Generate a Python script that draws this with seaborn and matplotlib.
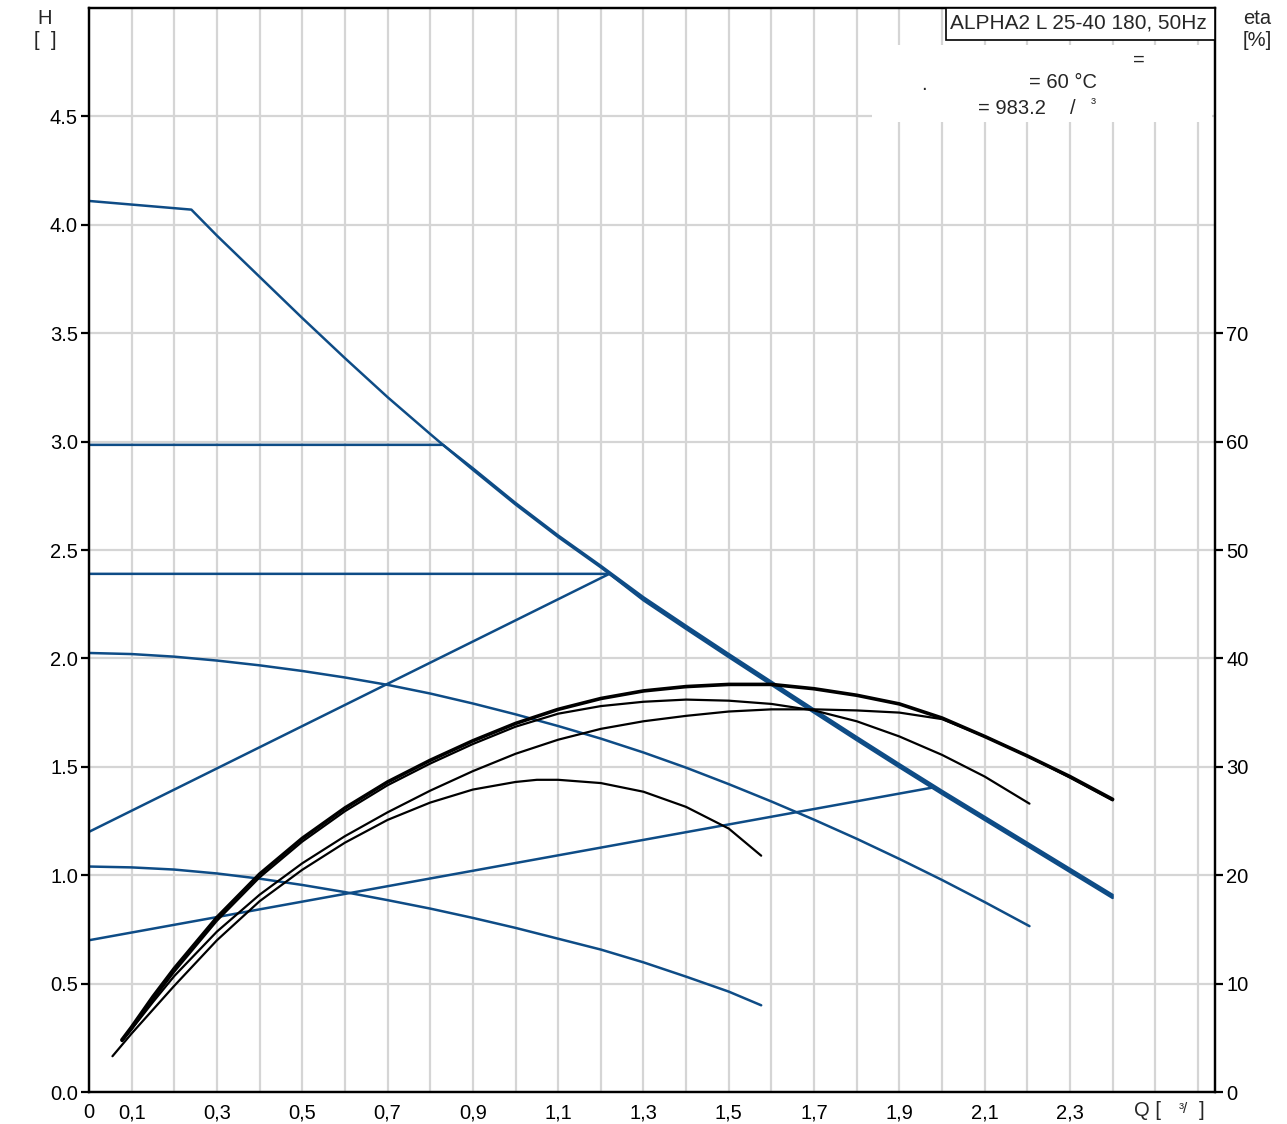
import numpy as np
import pandas as pd
import matplotlib
matplotlib.use("Agg")
import matplotlib.pyplot as plt
import seaborn as sns
from matplotlib.patches import Rectangle

# ---------------- data ----------------
# Head curves H [m] vs flow Q [m3/h]
q_max = [0, 0.24, 0.3, 0.4, 0.5, 0.6, 0.7, 0.8, 0.83, 0.9, 1.0, 1.1, 1.2, 1.22, 1.3, 1.4,
         1.5, 1.6, 1.7, 1.8, 1.9, 1.98, 2.1, 2.2, 2.3, 2.4]
h_max = [4.11, 4.07, 3.95, 3.76, 3.57, 3.385, 3.205, 3.035, 2.985, 2.87, 2.71, 2.56, 2.42, 2.39,
         2.275, 2.143, 2.013, 1.885, 1.757, 1.63, 1.505, 1.405, 1.262, 1.142, 1.022, 0.902]

q_cp1 = [0, 0.83, 0.9, 1.0, 1.1, 1.2, 1.3, 1.4, 1.5, 1.6, 1.7, 1.8, 1.9, 2.0, 2.1, 2.2, 2.3, 2.4]
h_cp1 = [2.985, 2.985, 2.877, 2.717, 2.567, 2.427, 2.282, 2.150, 2.020, 1.892, 1.764, 1.637,
         1.512, 1.389, 1.269, 1.149, 1.029, 0.909]

q_cp2 = [0, 1.22, 1.3, 1.4, 1.5, 1.6, 1.7, 1.8, 1.9, 2.0, 2.1, 2.2, 2.3, 2.4]
h_cp2 = [2.39, 2.39, 2.268, 2.136, 2.006, 1.878, 1.750, 1.623, 1.498, 1.375, 1.255, 1.135,
         1.015, 0.895]

q_pp1 = [0, 1.22]
h_pp1 = [1.20, 2.39]

q_pp2 = [0, 1.98]
h_pp2 = [0.70, 1.405]

q_s2 = [0, 0.1, 0.2, 0.3, 0.4, 0.5, 0.6, 0.7, 0.8, 0.9, 1.0, 1.1, 1.2, 1.3, 1.4, 1.5, 1.6,
        1.7, 1.8, 1.9, 2.0, 2.1, 2.205]
h_s2 = [2.025, 2.02, 2.008, 1.99, 1.968, 1.942, 1.912, 1.878, 1.838, 1.792, 1.742, 1.688, 1.63,
        1.566, 1.496, 1.42, 1.34, 1.256, 1.168, 1.075, 0.978, 0.876, 0.765]

q_s1 = [0, 0.1, 0.2, 0.3, 0.4, 0.5, 0.6, 0.7, 0.8, 0.9, 1.0, 1.1, 1.2, 1.3, 1.4, 1.5, 1.576]
h_s1 = [1.04, 1.036, 1.026, 1.008, 0.984, 0.955, 0.922, 0.885, 0.846, 0.803, 0.757, 0.707,
        0.657, 0.598, 0.532, 0.463, 0.400]

# Efficiency curves eta [%] vs Q
q_e1 = [0.077, 0.1, 0.15, 0.2, 0.3, 0.4, 0.5, 0.6, 0.7, 0.8, 0.9, 1.0, 1.1, 1.2, 1.3, 1.4,
        1.5, 1.6, 1.7, 1.8, 1.9, 2.0, 2.1, 2.2, 2.3, 2.4]
e_e1 = [4.8, 6.0, 8.8, 11.4, 16.1, 20.1, 23.4, 26.2, 28.6, 30.6, 32.4, 34.0, 35.3, 36.3, 37.0,
        37.4, 37.6, 37.6, 37.2, 36.6, 35.8, 34.5, 32.8, 31.0, 29.1, 27.0]

q_e2 = [0.077, 0.1, 0.15, 0.2, 0.3, 0.4, 0.5, 0.6, 0.7, 0.8, 0.9, 1.0, 1.1, 1.2, 1.3, 1.4,
        1.5, 1.6, 1.7, 1.8, 1.9, 2.0, 2.1, 2.205]
e_e2 = [4.7, 5.8, 8.5, 11.1, 15.8, 19.8, 23.1, 25.9, 28.3, 30.3, 32.1, 33.7, 34.9, 35.6, 36.0,
        36.2, 36.1, 35.8, 35.2, 34.2, 32.8, 31.1, 29.1, 26.6]

q_e3 = [0.078, 0.15, 0.2, 0.3, 0.4, 0.5, 0.6, 0.7, 0.8, 0.9, 1.0, 1.1, 1.2, 1.3, 1.4, 1.5,
        1.6, 1.7, 1.8, 1.9, 2.0, 2.1, 2.2, 2.3, 2.4]
e_e3 = [4.7, 8.3, 10.7, 14.8, 18.2, 21.1, 23.6, 25.8, 27.8, 29.6, 31.2, 32.5, 33.5, 34.2, 34.7,
        35.1, 35.3, 35.3, 35.2, 35.0, 34.4, 32.8, 31.0, 29.0, 26.9]

q_e4 = [0.055, 0.1, 0.15, 0.2, 0.3, 0.4, 0.5, 0.6, 0.7, 0.8, 0.9, 1.0, 1.05, 1.1, 1.2, 1.3,
        1.4, 1.5, 1.576]
e_e4 = [3.3, 5.4, 7.6, 9.8, 14.0, 17.6, 20.5, 23.0, 25.1, 26.7, 27.9, 28.6, 28.8, 28.8, 28.5,
        27.7, 26.3, 24.3, 21.8]

x_ticks = [0.0, 0.1, 0.2, 0.3, 0.4, 0.5, 0.6, 0.7, 0.8, 0.9, 1.0, 1.1, 1.2, 1.3, 1.4, 1.5,
           1.6, 1.7, 1.8, 1.9, 2.0, 2.1, 2.2, 2.3, 2.4, 2.5, 2.6]
x_labels = ["0", "0,1", "", "0,3", "", "0,5", "", "0,7", "", "0,9", "", "1,1", "", "1,3", "",
            "1,5", "", "1,7", "", "1,9", "", "2,1", "", "2,3", "", "", ""]
h_ticks = [0.0, 0.5, 1.0, 1.5, 2.0, 2.5, 3.0, 3.5, 4.0, 4.5]
h_labels = ["0.0", "0.5", "1.0", "1.5", "2.0", "2.5", "3.0", "3.5", "4.0", "4.5"]
eta_ticks = [0, 10, 20, 30, 40, 50, 60, 70]
eta_labels = ["0", "10", "20", "30", "40", "50", "60", "70"]

# ---------------- styling ----------------
sns.set_style("white")
plt.rcParams['font.family'] = ['Liberation Sans', 'DejaVu Sans']

W, H = 1287, 1124
fig = plt.figure(figsize=(W / 100, H / 100), dpi=100)
ax = fig.add_axes([89 / W, 1 - 1092 / H, (1215 - 89) / W, (1092 - 8) / H])
ax.set_xlim(0, 2.64)
ax.set_ylim(0, 5.0)

BLUE = "#0e4c86"
GRID = "#d5d5d5"
FS = 14.5

ax.set_xticks(x_ticks)
ax.set_xticklabels(x_labels)
ax.set_yticks(h_ticks)
ax.set_yticklabels(h_labels)
ax.grid(True, color=GRID, lw=1.6)
ax.set_axisbelow(True)
ax.tick_params(direction="out", length=6, width=1.6, labelsize=FS, pad=2, colors="black")
for s in ax.spines.values():
    s.set_color("black")
    s.set_linewidth(1.6)

# Blue head curves
blue_series = [(q_pp1, h_pp1), (q_pp2, h_pp2), (q_s2, h_s2), (q_s1, h_s1),
               (q_cp1, h_cp1), (q_cp2, h_cp2), (q_max, h_max)]
for qq, hh in blue_series:
    sns.lineplot(x=qq, y=hh, ax=ax, color=BLUE, lw=1.8, estimator=None, sort=False)
ax.set_xlabel("")
ax.set_ylabel("")

# Efficiency axis
ax2 = ax.twinx()
ax2.set_ylim(0, 100)
ax2.set_yticks(eta_ticks)
ax2.set_yticklabels(eta_labels)
ax2.grid(False)
ax2.tick_params(direction="out", length=6, width=1.6, labelsize=FS, pad=2, colors="black")
for s in ax2.spines.values():
    s.set_color("black")
    s.set_linewidth(1.6)

black_series = [(q_e4, e_e4, 1.6), (q_e3, e_e3, 1.6), (q_e2, e_e2, 1.6), (q_e1, e_e1, 2.6)]
for qq, ee, lw in black_series:
    sns.lineplot(x=qq, y=ee, ax=ax2, color="black", lw=lw, estimator=None, sort=False)
ax2.set_xlabel("")
ax2.set_ylabel("")

# White info area and title box
ax2.add_patch(Rectangle((872 / W, 1 - 122 / H), (1212 - 872) / W, (122 - 45) / H,
                        transform=fig.transFigure, facecolor="white", edgecolor="none",
                        zorder=5, clip_on=False))
ax2.add_patch(Rectangle((946 / W, 1 - 40 / H), (1215 - 946) / W, (40 - 8) / H,
                        transform=fig.transFigure, facecolor="white", edgecolor="black",
                        lw=1.2, zorder=6, clip_on=False))
fig.text(950 / W, 1 - 23 / H, "ALPHA2 L 25-40 180, 50Hz", ha="left", va="center",
         fontsize=15, zorder=7)
fig.text(1139 / W, 1 - 60 / H, "=", ha="center", va="center", fontsize=FS, zorder=7)
fig.text(924 / W, 1 - 84 / H, ".", ha="center", va="center", fontsize=FS, zorder=7)
fig.text(1097 / W, 1 - 83 / H, "= 60 °C", ha="right", va="center", fontsize=FS, zorder=7)
fig.text(978 / W, 1 - 108 / H, "= 983.2", ha="left", va="center", fontsize=FS, zorder=7)
fig.text(1073 / W, 1 - 108 / H, "/", ha="center", va="center", fontsize=FS, zorder=7)
fig.text(1093 / W, 1 - 104 / H, "³", ha="center", va="center", fontsize=FS * 0.75, zorder=7)

# Axis labels
fig.text(45 / W, 1 - 18 / H, "H", ha="center", va="center", fontsize=FS)
fig.text(45 / W, 1 - 40 / H, "[  ]", ha="center", va="center", fontsize=FS)
fig.text(1257 / W, 1 - 18 / H, "eta", ha="center", va="center", fontsize=FS)
fig.text(1257 / W, 1 - 40 / H, "[%]", ha="center", va="center", fontsize=FS)
fig.text(1134 / W, 1 - 1111 / H, "Q [", ha="left", va="center", fontsize=FS)
fig.text(1183 / W, 1 - 1109 / H, "³/", ha="center", va="center", fontsize=FS * 0.75)
fig.text(1202 / W, 1 - 1111 / H, "]", ha="center", va="center", fontsize=FS)

fig.savefig("out.png", dpi=100, facecolor="white")
